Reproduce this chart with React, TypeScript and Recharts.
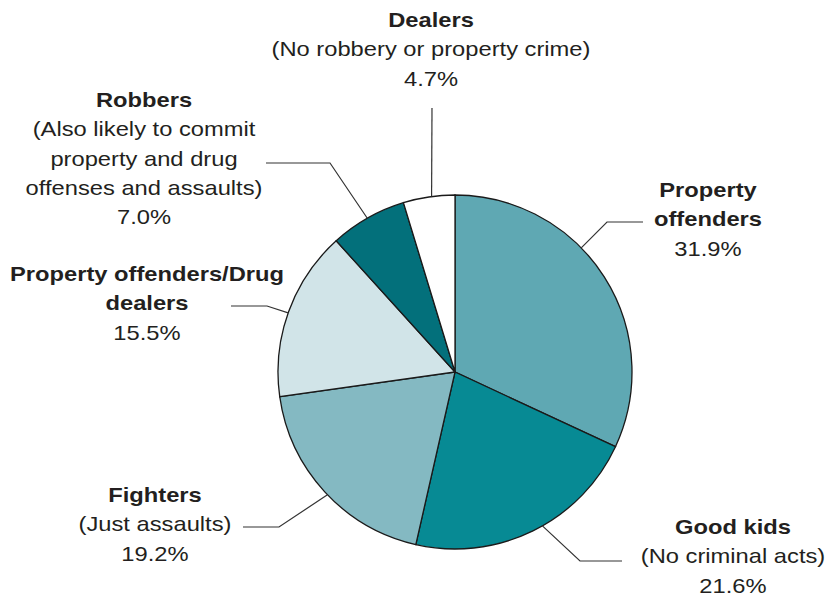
import { PieChart, Pie, Cell } from "recharts";

const categories = [
  "Property offenders",
  "Good kids",
  "Fighters",
  "Property offenders/Drug dealers",
  "Robbers",
  "Dealers",
];
const shares = [31.9, 21.6, 19.2, 15.5, 7.0, 4.7];
// how each name / note breaks across lines in the callouts
const nameLines = [
  ["Property", "offenders"],
  ["Good kids"],
  ["Fighters"],
  ["Property offenders/Drug", "dealers"],
  ["Robbers"],
  ["Dealers"],
];
const noteLines = [
  [],
  ["(No criminal acts)"],
  ["(Just assaults)"],
  [],
  ["(Also likely to commit", "property and drug", "offenses and assaults)"],
  ["(No robbery or property crime)"],
];

const colors = ["#5fa8b3", "#078a94", "#84b9c2", "#d1e4e8", "#03707b", "#ffffff"];

// callout placement: text center/first baseline, leader angle on the rim, elbow and end
const callouts = [
  { tx: 708, ty: 197, angle: 44.5, elbow: [607, 222], end: [643, 222] },
  { tx: 733, ty: 534, angle: -60.4, elbow: [580, 561], end: [622, 561] },
  { tx: 155, ty: 502, angle: -136.1, elbow: [279, 527], end: [243, 527] },
  { tx: 147, ty: 281, angle: 160.5, elbow: [267, 306], end: [231, 306] },
  { tx: 144, ty: 107, angle: 119.7, elbow: [330, 163], end: [266, 163] },
  { tx: 431, ty: 27, angle: 97.6, elbow: [432, 108], end: [432, 108] },
];

const data = categories.map((name, i) => ({ name, value: shares[i] }));

const LINE_H = 29.3;
const TEXT = "#231f20";

function Callout(props: any) {
  const { cx, cy, outerRadius, index } = props;
  const c = callouts[index];
  const rad = (c.angle * Math.PI) / 180;
  const sx = cx + outerRadius * Math.cos(rad);
  const sy = cy - outerRadius * Math.sin(rad);
  const rows: { t: string; bold: boolean }[] = [
    ...nameLines[index].map((t) => ({ t, bold: true })),
    ...noteLines[index].map((t) => ({ t, bold: false })),
    { t: `${shares[index].toFixed(1)}%`, bold: false },
  ];
  return (
    <g>
      <polyline
        points={`${sx},${sy} ${c.elbow[0]},${c.elbow[1]} ${c.end[0]},${c.end[1]}`}
        fill="none"
        stroke="#333"
        strokeWidth={1.2}
      />
      <g transform={`translate(${c.tx},0) scale(1.13,1)`}>
        {rows.map((r, k) => (
          <text
            key={k}
            x={0}
            y={c.ty + k * LINE_H}
            textAnchor="middle"
            fontFamily="'Liberation Sans', Arial, sans-serif"
            fontSize={21}
            fontWeight={r.bold ? 700 : 400}
            fill={TEXT}
          >
            {r.t}
          </text>
        ))}
      </g>
    </g>
  );
}

export default function App() {
  return (
    <div style={{ position: "absolute", left: 0, top: 0, background: "#fff" }}>
      <PieChart width={827} height={599} margin={{ top: 0, right: 0, bottom: 0, left: 0 }}>
        <Pie
          data={data}
          dataKey="value"
          nameKey="name"
          cx={455}
          cy={372}
          outerRadius={177}
          startAngle={90}
          endAngle={-270}
          stroke="#1a1a1a"
          strokeWidth={1.3}
          label={Callout}
          labelLine={false}
          isAnimationActive={false}
        >
          {data.map((d, i) => (
            <Cell key={d.name} fill={colors[i]} />
          ))}
        </Pie>
      </PieChart>
    </div>
  );
}
